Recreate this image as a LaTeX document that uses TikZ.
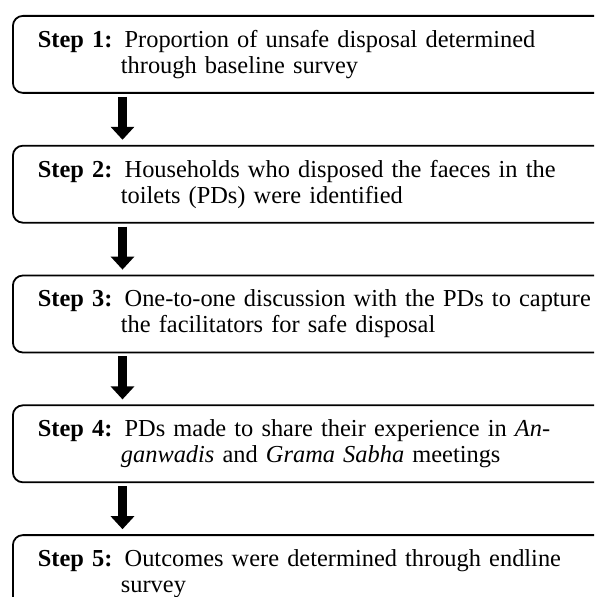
\documentclass[tikz,border=0pt]{standalone}
\usepackage{fontspec}
\setmainfont{Liberation Serif}
\usepackage{tikz}
\usepackage{xcolor}
\usetikzlibrary{arrows.meta,positioning}
\definecolor{ink}{HTML}{000000}
\newcommand{\hangline}{\\\hspace*{41.5pt}}
\tikzset{
  stepcard/.style={
    draw=ink, line width=0.9pt, rounded corners=5pt,
    text width=290pt, align=left, minimum height=38.5pt,
    inner xsep=12.5pt, inner ysep=0pt,
    font=\fontsize{12.2}{13}\selectfont
  },
  flowarrow/.style={
    draw=ink, line width=4.5pt,
    -{Triangle[width=11.5pt,length=6.5pt]}
  }
}
\begin{document}
\begin{tikzpicture}
  \useasboundingbox (0,0) rectangle (297pt,-298.5pt);
  \clip (0,0) rectangle (297pt,-298.5pt);
  \node[stepcard,anchor=north west] (box1) at (6pt,-7.5pt) {%
    \textbf{Step 1:} Proportion of unsafe disposal determined
    \hangline through baseline survey};
  \node[stepcard,below=25.5pt of box1] (box2) {%
    \textbf{Step 2:} Households who disposed the faeces in the
    \hangline toilets (PDs) were identified};
  \node[stepcard,below=25.5pt of box2] (box3) {%
    \textbf{Step 3:} One-to-one discussion with the PDs to capture
    \hangline the facilitators for safe disposal};
  \node[stepcard,below=25.5pt of box3] (box4) {%
    \textbf{Step 4:} PDs made to share their experience in \textit{An-}
    \hangline \textit{ganwadis} and \textit{Grama Sabha} meetings};
  \node[stepcard,below=25.5pt of box4] (box5) {%
    \textbf{Step 5:} Outcomes were determined through endline
    \hangline survey};
  % arrows between the steps
  \foreach \a/\b in {box1/box2,box2/box3,box3/box4,box4/box5}
    \draw[flowarrow] ([xshift=55.25pt,yshift=-1.5pt]\a.south west)
      -- ([xshift=55.25pt,yshift=2.5pt]\b.north west);
\end{tikzpicture}
\end{document}
